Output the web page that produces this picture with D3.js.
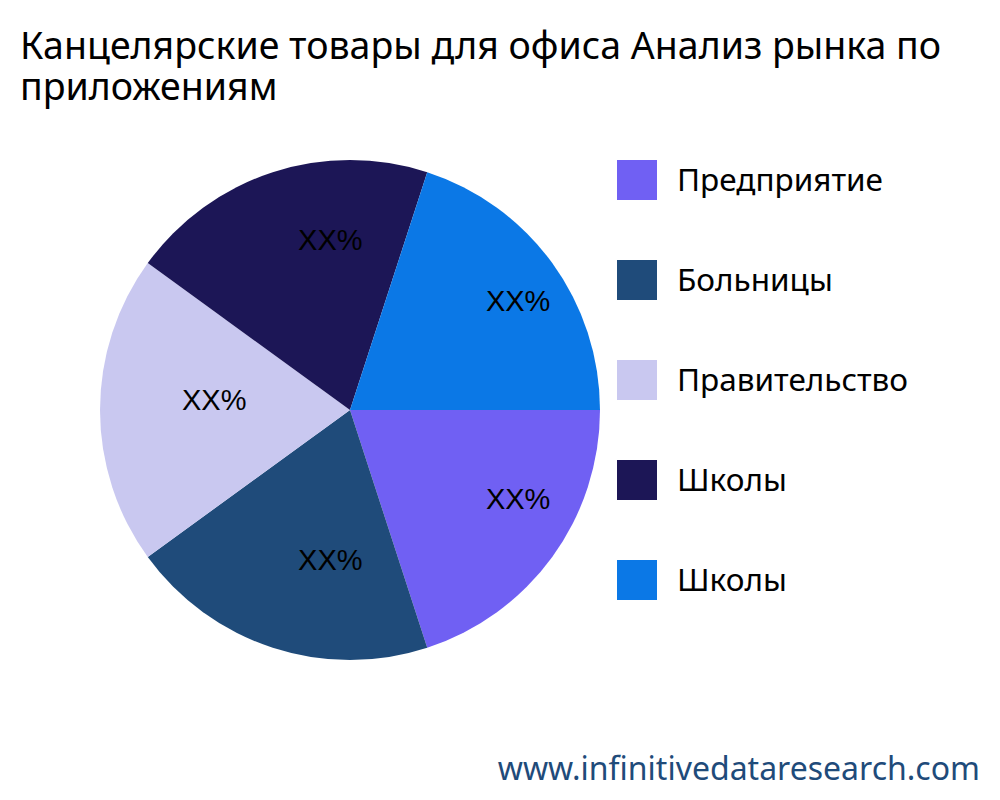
<!DOCTYPE html>
<html><head><meta charset="utf-8">
<script src="https://cdn.jsdelivr.net/npm/d3@7"></script>
<style>body{margin:0;background:#fff}</style></head>
<body><svg id="c" width="1000" height="800"></svg>
<script>
const categories = ["Предприятие","Больницы","Правительство","Школы","Школы"];
const values = [20,20,20,20,20];
const labels = ["XX%","XX%","XX%","XX%","XX%"];
const colors = ["#7060F3","#1F4B7A","#C9C8F0","#1C1656","#0B78E6"];

const svg = d3.select("#c");
svg.append("text").attr("x",20).attr("y",59).attr("font-family","Noto Sans").attr("font-size",37.5).attr("fill","#000").text("Канцелярские товары для офиса Анализ рынка по");
svg.append("text").attr("x",20).attr("y",100).attr("font-family","Noto Sans").attr("font-size",37.5).attr("fill","#000").text("приложениям");

const R = 250;
const g = svg.append("g").attr("transform","translate(350,410)");
const pie = d3.pie().sort(null).value(d=>d).startAngle(Math.PI/2).endAngle(Math.PI/2+2*Math.PI);
const arcs = pie(values);
const arc = d3.arc().innerRadius(0).outerRadius(R);
const la = d3.arc().innerRadius(168).outerRadius(168);
g.selectAll("path").data(arcs).join("path").attr("d",arc).attr("fill",(d,i)=>colors[i]);
g.selectAll("text").data(arcs).join("text")
 .attr("transform",d=>`translate(${la.centroid(d)})`)
 .attr("text-anchor","start").attr("dy","0em")
 .attr("font-family","Liberation Sans").attr("font-size",29).attr("fill","#000")
 .text((d,i)=>labels[i]);

const lg = svg.append("g");
categories.forEach((c,i)=>{
  lg.append("rect").attr("x",617).attr("y",160+i*100).attr("width",40).attr("height",40).attr("fill",colors[i]);
  lg.append("text").attr("x",677).attr("y",180+i*100).attr("dy","0.35em").attr("font-family","Noto Sans").attr("font-size",31.5).attr("fill","#000").text(c);
});
svg.append("text").attr("x",980).attr("y",780).attr("text-anchor","end").attr("font-family","Noto Sans").attr("font-size",32).attr("fill","#1F4B7A").text("www.infinitivedataresearch.com");
</script></body></html>
